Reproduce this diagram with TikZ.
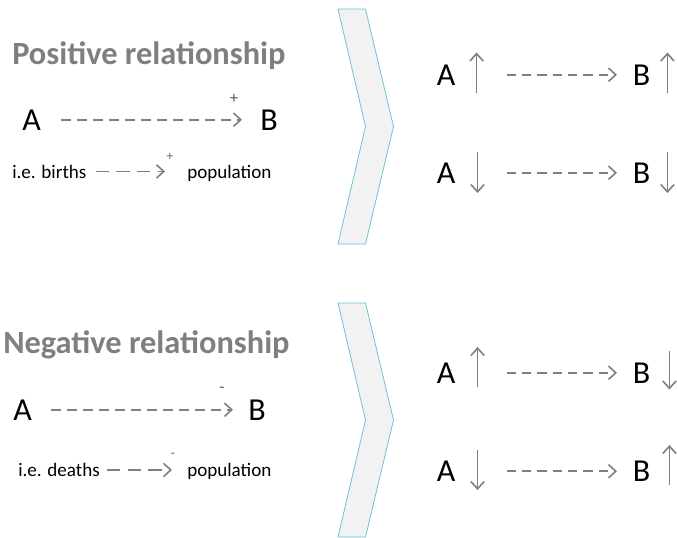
\documentclass[tikz,border=0pt]{standalone}
\usepackage{fontspec}
\setmainfont{Carlito}
\usetikzlibrary{arrows.meta}
\definecolor{arrGray}{HTML}{7F7F7F}
\definecolor{headGray}{HTML}{7F7F7F}
\definecolor{chevFill}{HTML}{F2F2F2}
\definecolor{chevLine}{HTML}{6CC3D9}
\tikzstyle{hS}=[anchor=base west,inner sep=0pt,text=headGray,font=\fontsize{24.3}{28}\selectfont\bfseries]
\tikzstyle{lS}=[anchor=base west,inner sep=0pt,font=\fontsize{24}{28}\selectfont]
\tikzstyle{tS}=[anchor=base west,inner sep=0pt,font=\fontsize{14.3}{17}\selectfont]
\tikzstyle{sS}=[inner sep=0pt,text=arrGray!70!black,font=\fontsize{12.5}{14}\selectfont]
\tikzstyle{ssS}=[inner sep=0pt,text=arrGray!80!black,font=\fontsize{10}{11}\selectfont]
\tikzstyle{eL}=[draw=arrGray,line width=1.2pt,dash pattern=on 7.5pt off 4.5pt,-{Straight Barb[length=5.5pt,width=10pt]}]
\tikzstyle{eE}=[draw=arrGray,line width=1.2pt,dash pattern=on 10pt off 5.5pt,-{Straight Barb[length=5.5pt,width=10pt]}]
\tikzstyle{vA}=[draw=arrGray,line width=1.2pt,-{Straight Barb[length=5.5pt,width=10pt]}]
\tikzstyle{cS}=[fill=chevFill,draw=chevLine,line width=0.6pt]

\begin{document}
\begin{tikzpicture}[x=0.75pt,y=-0.75pt]
                \useasboundingbox (0,0) rectangle (677,537);
                % chevrons
                \draw[cS] (338,9) -- (365.5,9) -- (393.5,126.5) -- (365.5,244) -- (338,244) -- (365.5,126.5) -- cycle;
                \draw[cS] (338,303) -- (365.5,303) -- (393.5,420) -- (365.5,537) -- (338,537) -- (365.5,420) -- cycle;
                % positive, left
                \draw (12,64) node[hS] (hP) {Positive relationship};
                \draw (22,130) node[lS] (pA) {A};
                \draw (260,130) node[lS] (pB) {B};
                \draw (234,99) node[sS] (pPl) {+};
                \draw (12,178) node[tS] (pBi) {i.e. births};
                \draw (187,178) node[tS] (pPo) {population};
                \draw (170,157) node[ssS] (pPs) {+};
                \path
                    (pA) edge[eL,shorten <=19.5*0.75pt,shorten >=18*0.75pt] (pB)
                    (pBi.east) edge[eE,shorten <=9*0.75pt,shorten >=22*0.75pt] (pBi.east -| pPo.west)
                ;
                % negative, left
                \draw (3,353) node[hS] (hN) {Negative relationship};
                \draw (13,420) node[lS] (nA) {A};
                \draw (248,420) node[lS] (nB) {B};
                \draw (222,390) node[sS] (nMi) {-};
                \draw (18,476.5) node[tS] (nDe) {i.e. deaths};
                \draw (187,476.5) node[tS] (nPo) {population};
                \draw (173,455) node[ssS] (nMs) {-};
                \path
                    (nA) edge[eL,shorten <=18.5*0.75pt,shorten >=15*0.75pt] (nB)
                    (nDe.east) edge[eE,shorten <=7*0.75pt,shorten >=15*0.75pt] (nDe.east -| nPo.west)
                ;
                % right side, four rows
                \foreach \n/\y in {r1/85, r2/183, r3/383, r4/481.5}{
                    \draw (436.5,\y) node[lS] (\n a) {A};
                    \draw (632.5,\y) node[lS] (\n b) {B};
                    \path (\n a) edge[eL,dash pattern=on 7pt off 4.5pt,shorten <=51*0.75pt,shorten >=15.5*0.75pt] (\n b);
                }
                % small up and down arrows
                \draw[vA] (r1a.base east) ++(21,7.5) -- ++(0,-40);
                \draw[vA] (r1b.base east) ++(17,7.5) -- ++(0,-40);
                \draw[vA] (r2a.base east) ++(22,-31) -- ++(0,41);
                \draw[vA] (r2b.base east) ++(17,-31) -- ++(0,41);
                \draw[vA] (r3a.base east) ++(22,4) -- ++(0,-40);
                \draw[vA] (r3b.base east) ++(19,-32.5) -- ++(0,39);
                \draw[vA] (r4a.base east) ++(22,-31.5) -- ++(0,40);
                \draw[vA] (r4b.base east) ++(19,3.5) -- ++(0,-40);
        \end{tikzpicture}
\end{document}
